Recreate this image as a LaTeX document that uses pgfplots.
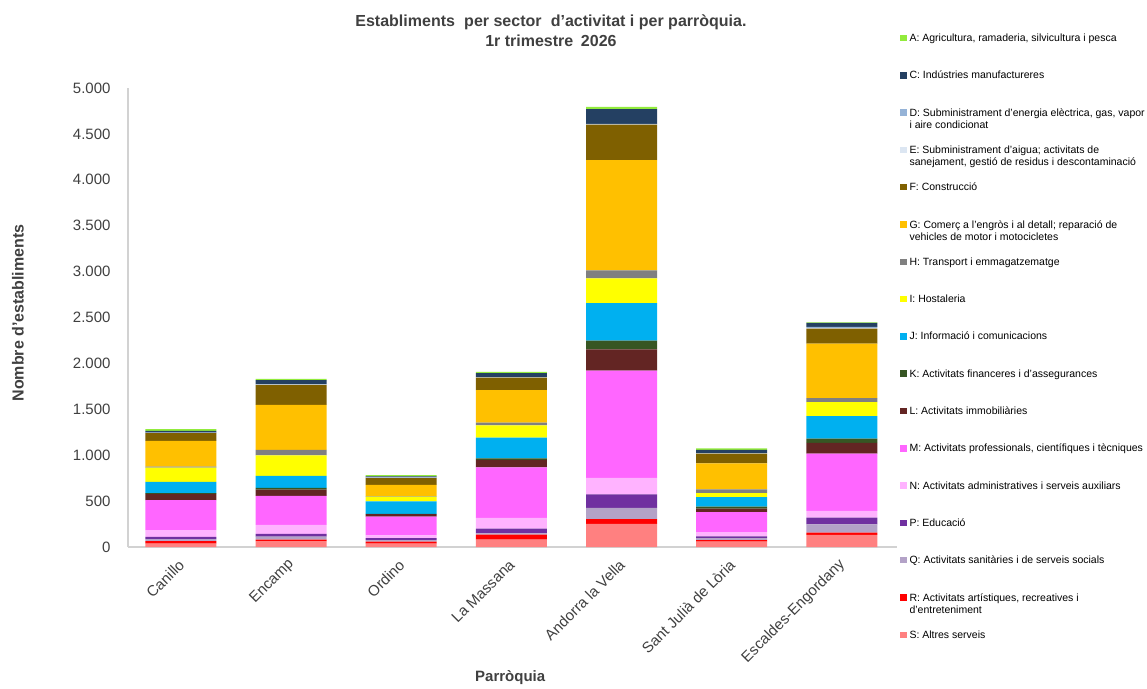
\documentclass[border=0pt]{standalone}
\usepackage{pgfplots}
\pgfplotsset{compat=1.18}
\usepackage{pgfplotstable}
\usepackage{fontspec}
\setmainfont{Liberation Sans}

\definecolor{cA}{RGB}{146,235,60}
\definecolor{cC}{RGB}{36,64,98}
\definecolor{cD}{RGB}{149,179,215}
\definecolor{cE}{RGB}{220,230,242}
\definecolor{cF}{RGB}{127,96,0}
\definecolor{cG}{RGB}{255,192,0}
\definecolor{cH}{RGB}{128,128,128}
\definecolor{cI}{RGB}{255,255,0}
\definecolor{cJ}{RGB}{0,176,240}
\definecolor{cK}{RGB}{55,86,35}
\definecolor{cL}{RGB}{99,37,35}
\definecolor{cM}{RGB}{255,102,255}
\definecolor{cN}{RGB}{255,179,255}
\definecolor{cP}{RGB}{112,48,160}
\definecolor{cQ}{RGB}{179,162,199}
\definecolor{cR}{RGB}{255,0,0}
\definecolor{cS}{RGB}{255,128,128}
\definecolor{txt}{RGB}{64,64,64}
\definecolor{axl}{RGB}{210,210,210}

% parroquies: 0 Canillo ... 6 Escaldes-Engordany
\pgfplotstableread{
x A C D E F G H I J K L M N P Q R S
0 18 20 3 3 84 280 10 156 123 8 69 325 76 22 22 29 36
1 15 44 5 3 218 490 58 225 131 18 69 316 98 29 33 15 65
2 13 10 5 3 73 123 5 54 134 3 29 203 29 22 18 22 36
3 15 44 3 3 134 356 29 134 225 18 80 552 116 51 15 54 80
4 25 160 5 5 385 1202 87 269 410 94 232 1169 178 149 120 54 251
5 18 33 5 3 105 283 40 44 105 22 36 218 47 18 22 18 58
6 5 44 15 5 163 592 44 152 247 47 116 624 73 73 91 25 131
}\datatable

\pgfplotsset{sq/.style={draw=none, fill=#1,
  legend image code/.code={\fill[##1] (0pt,0.3pt) rectangle (6.5pt,6.8pt);}}}
\newcommand{\twol}[2]{\begin{tabular}[t]{@{}l@{}}#1\\#2\end{tabular}}

\begin{document}
\begin{tikzpicture}
\path[use as bounding box] (-128pt,-141pt) rectangle (1019pt,547pt);
\begin{axis}[
  at={(0pt,0pt)}, anchor=south west,
  scale only axis, width=769pt, height=459pt,
  ybar stacked, bar width=71pt,
  xmin=-0.48, xmax=6.5, ymin=0, ymax=5000,
  xtick={0,...,6},
  xticklabels={Canillo,Encamp,Ordino,La Massana,Andorra la Vella,Sant Julià de Lòria,Escaldes-Engordany},
  ytick={0,500,...,5000},
  scaled y ticks=false,
  /pgf/number format/assume math mode=true,
  yticklabel style={/pgf/number format/1000 sep={.}, xshift=-14pt},
  axis x line*=bottom, axis y line*=left,
  axis line style={axl, line width=1.2pt, -},
  major tick length=0pt,
  tick label style={font=\fontsize{15}{18}\selectfont, text=txt},
  xticklabel style={yshift=-13pt, xshift=3pt, rotate=45, anchor=east},
  title={Establiments\hspace{0.3em} per sector\hspace{0.3em} d’activitat i per parròquia.\\1r trimestre\hspace{0.2em} 2026},
  title style={at={(0.550,1.111)}, anchor=center, align=center,
    font=\bfseries\fontsize{16}{20}\selectfont, text=txt},
  xlabel={Parròquia},
  xlabel style={at={(0.497,-0.285)}, anchor=center,
    font=\bfseries\fontsize{15}{18}\selectfont, text=txt},
  ylabel={Nombre d’establiments},
  ylabel style={at={(-0.143,0.51)}, anchor=center,
    font=\bfseries\fontsize{16}{18}\selectfont, text=txt},
  reverse legend,
  legend style={at={(1.0039,1.1187)}, anchor=north west, draw=none, fill=none,
    inner sep=0pt, outer sep=0pt, row sep=0pt, column sep=3pt,
    font=\fontsize{10.5}{12}\selectfont,
    nodes={inner sep=0pt, text height=8pt, text depth=29.3pt},
    cells={anchor=base west}},
]
\addplot[sq=cS] table[x=x,y=S]{\datatable};
\addlegendentry{S: Altres serveis}
\addplot[sq=cR] table[x=x,y=R]{\datatable};
\addlegendentry{\twol{R: Activitats artístiques, recreatives i}{d’entreteniment}}
\addplot[sq=cQ] table[x=x,y=Q]{\datatable};
\addlegendentry{Q: Activitats sanitàries i de serveis socials}
\addplot[sq=cP] table[x=x,y=P]{\datatable};
\addlegendentry{P: Educació}
\addplot[sq=cN] table[x=x,y=N]{\datatable};
\addlegendentry{N: Activitats administratives i serveis auxiliars}
\addplot[sq=cM] table[x=x,y=M]{\datatable};
\addlegendentry{M: Activitats professionals, científiques i tècniques}
\addplot[sq=cL] table[x=x,y=L]{\datatable};
\addlegendentry{L: Activitats immobiliàries}
\addplot[sq=cK] table[x=x,y=K]{\datatable};
\addlegendentry{K: Activitats financeres i d’assegurances}
\addplot[sq=cJ] table[x=x,y=J]{\datatable};
\addlegendentry{J: Informació i comunicacions}
\addplot[sq=cI] table[x=x,y=I]{\datatable};
\addlegendentry{I: Hostaleria}
\addplot[sq=cH] table[x=x,y=H]{\datatable};
\addlegendentry{H: Transport i emmagatzematge}
\addplot[sq=cG] table[x=x,y=G]{\datatable};
\addlegendentry{\twol{G: Comerç a l’engròs i al detall; reparació de}{vehicles de motor i motocicletes}}
\addplot[sq=cF] table[x=x,y=F]{\datatable};
\addlegendentry{F: Construcció}
\addplot[sq=cE] table[x=x,y=E]{\datatable};
\addlegendentry{\twol{E: Subministrament d’aigua; activitats de}{sanejament, gestió de residus i descontaminació}}
\addplot[sq=cD] table[x=x,y=D]{\datatable};
\addlegendentry{\twol{D: Subministrament d’energia elèctrica, gas, vapor}{i aire condicionat}}
\addplot[sq=cC] table[x=x,y=C]{\datatable};
\addlegendentry{C: Indústries manufactureres}
\addplot[sq=cA] table[x=x,y=A]{\datatable};
\addlegendentry{A: Agricultura, ramaderia, silvicultura i pesca}
\end{axis}
\end{tikzpicture}
\end{document}
